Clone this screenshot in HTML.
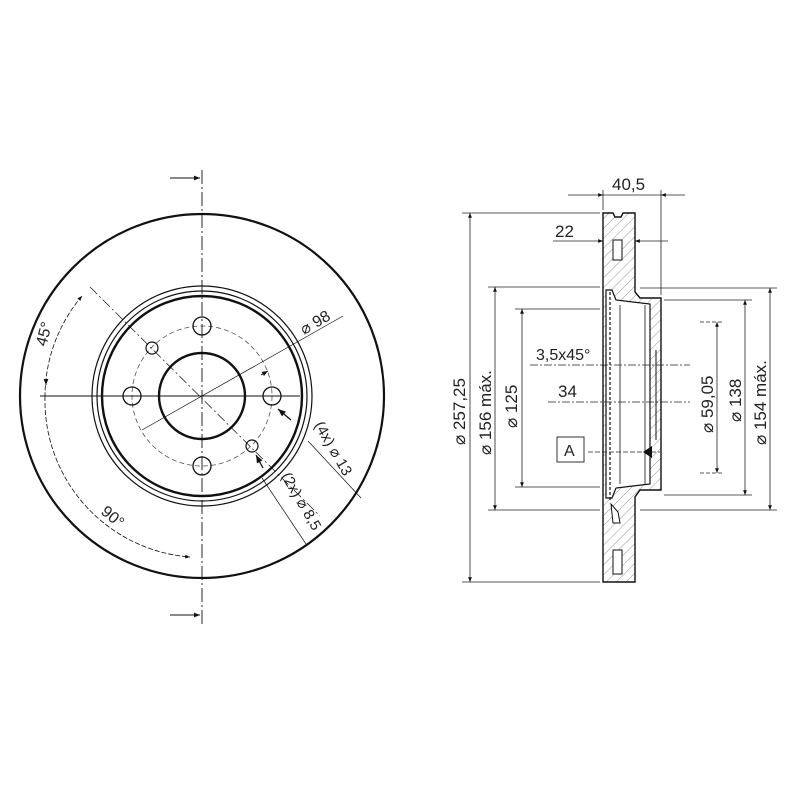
<!DOCTYPE html>
<html><head><meta charset="utf-8"><style>
html,body{margin:0;padding:0;background:#fff}
svg{display:block}
text{font-family:"Liberation Sans",sans-serif;fill:#222}
</style></head><body>
<svg width="800" height="800" viewBox="0 0 800 800" xmlns="http://www.w3.org/2000/svg">
<defs>
<pattern id="h" width="7" height="7" patternUnits="userSpaceOnUse" patternTransform="rotate(45)">
<line x1="0" y1="0" x2="0" y2="7" stroke="#777" stroke-width="0.8"/>
</pattern>
<marker id="a" viewBox="0 0 10 10" refX="10" refY="5" markerWidth="9" markerHeight="6" orient="auto-start-reverse"><path d="M0,1 L10,5 L0,9z" fill="#111"/></marker>
</defs>
<g fill="none" stroke="#111">
<circle cx="202" cy="396" r="182" stroke-width="2.2"/>
<circle cx="202" cy="396" r="110" stroke-width="1.2"/>
<circle cx="202" cy="396" r="105" stroke-width="1.2"/>
<circle cx="202" cy="396" r="100" stroke-width="2.4"/>
<circle cx="202" cy="396" r="43" stroke-width="2.4"/>
<circle cx="202" cy="396" r="70" stroke-width="0.8" stroke-dasharray="5,3" stroke="#555"/>
<circle cx="202" cy="326" r="9" stroke-width="1.3"/>
<circle cx="202" cy="466" r="9" stroke-width="1.3"/>
<circle cx="132" cy="396" r="9" stroke-width="1.3"/>
<circle cx="272" cy="396" r="9" stroke-width="1.3"/>
<circle cx="152" cy="348" r="6" stroke-width="1.2"/>
<circle cx="252" cy="446" r="6" stroke-width="1.2"/>
<line x1="202" y1="170" x2="202" y2="625" stroke-width="0.9" stroke-dasharray="14,3,2,3"/>
<line x1="40" y1="396" x2="300" y2="396" stroke-width="0.9"/>
<line x1="90" y1="287" x2="320" y2="516" stroke-width="0.7" stroke-dasharray="10,3,2,3"/>
<line x1="142" y1="430" x2="343" y2="316" stroke-width="0.7"/>
<line x1="268" y1="371" x2="261" y2="375" marker-start="url(#a)"/>
<line x1="308" y1="441" x2="361" y2="498" stroke-width="0.7"/>
<line x1="278" y1="409" x2="291" y2="420" marker-start="url(#a)" stroke-width="1.3"/>
<line x1="262" y1="478" x2="306" y2="544" stroke-width="0.7"/>
<line x1="256" y1="455" x2="263" y2="468" marker-start="url(#a)" stroke-width="1.3"/>
<path d="M82,296 A156,156 0 0 0 45,396" stroke-width="0.8" stroke-dasharray="5,2" marker-start="url(#a)"/>
<path d="M45,396 A157,157 0 0 0 190,557" stroke-width="0.8" stroke-dasharray="5,2" marker-end="url(#a)"/>
<line x1="46" y1="380" x2="46" y2="385" marker-end="url(#a)"/>
<line x1="170" y1="178" x2="200" y2="178" marker-end="url(#a)" stroke-width="1"/>
<line x1="170" y1="615" x2="200" y2="615" marker-end="url(#a)" stroke-width="1"/>
</g>
<text font-size="16" transform="translate(46,347) rotate(-75)">45°</text>
<text font-size="16" transform="translate(100,513) rotate(40)">90°</text>
<text font-size="16" transform="translate(304,335) rotate(-30)">⌀ 98</text>
<text font-size="15" transform="translate(314,425) rotate(60)">(4x) ⌀ 13</text>
<text font-size="15" transform="translate(281,476) rotate(60)">(2x) ⌀ 8,5</text>

<g stroke="#111" fill="none">
<path d="M603,213 L613,213 L615,217 L621,217 L623,213 L635,213 L635,292 L640,298 L661,298 L661,490 L640,490 L635,497 L635,582 L603,582 Z" fill="url(#h)" stroke-width="1.4"/>
<path d="M606,290 L612,290 L616,300 L650,304 L650,484 L616,488 L612,498 L606,498 Z" fill="#fff" stroke-width="1.2"/>
<line x1="610" y1="292" x2="610" y2="500" stroke-width="1.2" stroke-dasharray="3,2"/>
<line x1="620" y1="305" x2="620" y2="484" stroke-width="0.8"/>
<line x1="645" y1="305" x2="645" y2="484" stroke-width="0.8"/>
<line x1="656" y1="350" x2="656" y2="440" stroke-width="1"/>
<rect x="613" y="240" width="9" height="20" fill="#fff" stroke-width="1"/>
<rect x="613" y="550" width="9" height="24" fill="#fff" stroke-width="1"/>
<path d="M611,504 L618,512 L620,523 L613,523 Z" fill="#fff" stroke-width="1"/>
</g>
<g stroke="#222" stroke-width="0.8" fill="none">
<line x1="462" y1="213" x2="600" y2="213"/>
<line x1="462" y1="582" x2="600" y2="582"/>
<line x1="488" y1="287" x2="600" y2="287"/>
<line x1="488" y1="510" x2="600" y2="510"/>
<line x1="515" y1="309" x2="600" y2="309"/>
<line x1="515" y1="487" x2="600" y2="487"/>
<line x1="664" y1="300" x2="752" y2="300"/>
<line x1="664" y1="495" x2="752" y2="495"/>
<line x1="640" y1="288" x2="777" y2="288"/>
<line x1="640" y1="510" x2="777" y2="510"/>
<line x1="603" y1="190" x2="603" y2="210"/>
<line x1="661" y1="190" x2="661" y2="295"/>
<line x1="700" y1="322" x2="724" y2="322" stroke-dasharray="4,2"/>
<line x1="700" y1="473" x2="724" y2="473" stroke-dasharray="4,2"/>
<line x1="470" y1="213" x2="470" y2="582" marker-start="url(#a)" marker-end="url(#a)"/>
<line x1="495" y1="287" x2="495" y2="510" marker-start="url(#a)" marker-end="url(#a)"/>
<line x1="522" y1="309" x2="522" y2="487" marker-start="url(#a)" marker-end="url(#a)"/>
<line x1="717" y1="322" x2="717" y2="473" marker-start="url(#a)" marker-end="url(#a)"/>
<line x1="745" y1="300" x2="745" y2="495" marker-start="url(#a)" marker-end="url(#a)"/>
<line x1="770" y1="288" x2="770" y2="510" marker-start="url(#a)" marker-end="url(#a)"/>
<line x1="568" y1="195" x2="603" y2="195" marker-end="url(#a)"/>
<line x1="685" y1="195" x2="661" y2="195" marker-end="url(#a)"/>
<line x1="603" y1="195" x2="661" y2="195"/>
<line x1="553" y1="241" x2="603" y2="241" marker-end="url(#a)"/>
<line x1="668" y1="241" x2="635" y2="241" marker-end="url(#a)"/>
<line x1="530" y1="365" x2="690" y2="365" stroke-dasharray="8,2,2,2"/>
<line x1="548" y1="402" x2="690" y2="402" stroke-dasharray="8,2,2,2"/>
<line x1="588" y1="452" x2="660" y2="452" stroke-dasharray="5,2"/>
</g>
<rect x="557" y="437" width="27" height="25" fill="#fff" stroke="#333" stroke-width="1"/>
<text x="564" y="456" font-size="16">A</text>
<path d="M643,452 L652,446 L652,458 Z" fill="#111"/>
<text x="612" y="190" font-size="17">40,5</text>
<text x="555" y="237" font-size="17">22</text>
<text x="536" y="360" font-size="16">3,5x45°</text>
<text x="558" y="397" font-size="17">34</text>
<text font-size="17" transform="translate(465,445) rotate(-90)">⌀ 257,25</text>
<text font-size="17" transform="translate(491,455) rotate(-90)">⌀ 156 máx.</text>
<text font-size="17" transform="translate(517,428) rotate(-90)">⌀ 125</text>
<text font-size="17" transform="translate(713,433) rotate(-90)">⌀ 59,05</text>
<text font-size="17" transform="translate(741,422) rotate(-90)">⌀ 138</text>
<text font-size="17" transform="translate(766,445) rotate(-90)">⌀ 154 máx.</text>
</svg>
</body></html>
